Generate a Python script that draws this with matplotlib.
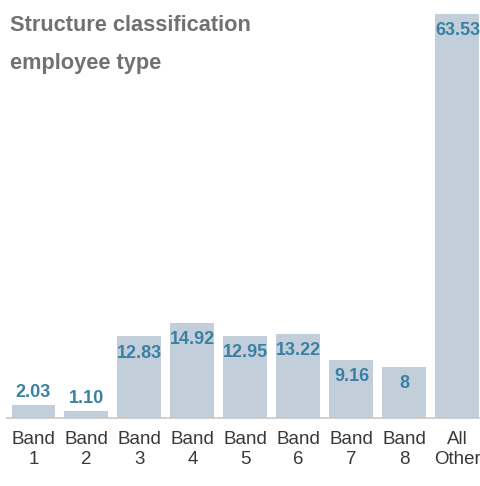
import matplotlib
matplotlib.use('Agg')
import matplotlib.pyplot as plt
from matplotlib import font_manager

categories = ['Band\n1', 'Band\n2', 'Band\n3', 'Band\n4', 'Band\n5', 'Band\n6', 'Band\n7', 'Band\n8', 'All\nOther']
values = [2.03, 1.10, 12.83, 14.92, 12.95, 13.22, 9.16, 8, 63.53]
value_labels = ['2.03', '1.10', '12.83', '14.92', '12.95', '13.22', '9.16', '8', '63.53']

names = set(f.name for f in font_manager.fontManager.ttflist)
narrow = 'Liberation Sans Narrow' if 'Liberation Sans Narrow' in names else 'Liberation Sans'

bar_color = '#c2cfda'
label_color = '#3a80a4'

fig = plt.figure(figsize=(4.8, 4.86), dpi=100)
ax = fig.add_axes([0, 68/486, 1, 418/486])

x = list(range(len(values)))
bars = ax.bar(x, values, width=0.83, color=bar_color, zorder=2)

ax.set_xlim(-0.632, 8.425)
ax.set_ylim(0, 63.53 * 418 / 404)

for xi, v, lab in zip(x, values, value_labels):
    if v < 5:
        ax.annotate(lab, (xi, v), xytext=(0, 3), textcoords='offset points',
                    ha='center', va='bottom', fontsize=13, fontweight='bold',
                    color=label_color, family=narrow)
    else:
        ax.annotate(lab, (xi, v), xytext=(0, -6), textcoords='offset points',
                    ha='center', va='top', fontsize=13, fontweight='bold',
                    color=label_color, family=narrow)

for s in ['top', 'right', 'left']:
    ax.spines[s].set_visible(False)
ax.spines['bottom'].set_color('#c8c8c8')
ax.spines['bottom'].set_linewidth(1.2)
ax.spines['bottom'].set_bounds(-0.5, 8.425)
ax.set_yticks([])
ax.set_xticks(x)
ax.set_xticklabels(categories, fontsize=13.5, color='#383838', family=narrow, linespacing=1.25)
ax.tick_params(axis='x', length=0, pad=9)

fig.text(10/480, 1 - 15/486, 'Structure classification\nemployee type', ha='left', va='top',
         fontsize=15.7, fontweight='bold', color='#717171', family='Liberation Sans', linespacing=2.05)

fig.savefig('out.png', dpi=100)
